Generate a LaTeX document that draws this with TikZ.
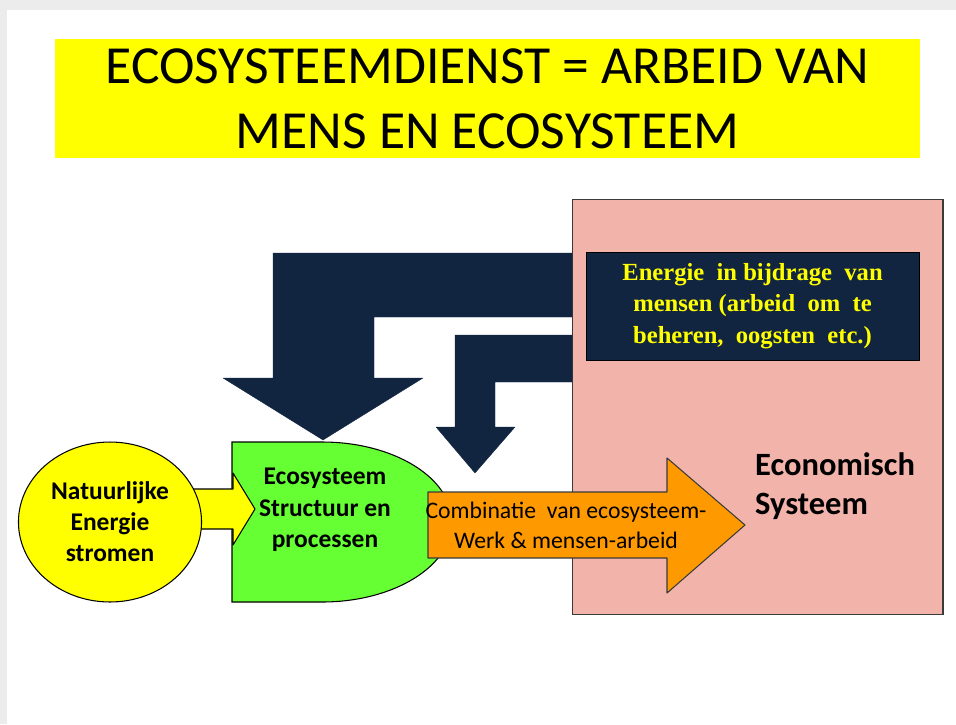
\documentclass[tikz,border=0pt]{standalone}
\usepackage{fontspec}
\setmainfont{Carlito}
\newfontfamily\serifletter{Liberation Serif}
\usepackage{tkz-euclide}
\usetikzlibrary{shapes.geometric}

\definecolor{marine}{HTML}{122540}
\definecolor{roze}{HTML}{F2B3AA}
\definecolor{geel}{HTML}{FFFF00}
\definecolor{groen}{HTML}{66FF33}
\definecolor{oranje}{HTML}{FF9900}
\definecolor{randgrijs}{HTML}{ECECEC}
\definecolor{rand}{HTML}{3A3A3A}

\begin{document}
\begin{tikzpicture}[x=0.02cm,y=-0.02cm]
        % Vaste grootte van het plaatje
        \useasboundingbox (0,0) rectangle (956,724);
        \fill[randgrijs] (0,0) rectangle (956,724);
        \fill[white] (7,10) rectangle (956,724);

        % Titel in de gele balk
        \node[fill=geel, minimum width=17.3cm, minimum height=2.38cm, align=center,
              font=\fontsize{30.5}{37}\selectfont] (titel) at (487.5,98.5)
              {ECOSYSTEEMDIENST = ARBEID VAN\\MENS EN ECOSYSTEEM};

        % Roze vak van het economisch systeem
        \node[draw=rand, line width=0.6pt, fill=roze, minimum width=7.42cm,
              minimum height=8.32cm] (economie) at (757.5,407) {};

        % Definieer de punten van de grote donkere pijl
        \tkzDefPoints{
            572/253/G1, 273/253/G2, 273/378/G3, 223/378/G4, 323/440/G5,
            423/378/G6, 374/378/G7, 374/317/G8, 572/317/G9%
        }
        % Definieer de punten van de kleine donkere pijl
        \tkzDefPoints{
            572/335/K1, 455/335/K2, 455/427/K3, 436/427/K4, 475/473/K5,
            515/427/K6, 495/427/K7, 495/382/K8, 572/382/K9%
        }
        % Teken beide donkere pijlen
        \tkzDrawPolygon[draw=marine, fill=marine](G1,G2,G3,G4,G5,G6,G7,G8,G9)
        \tkzDrawPolygon[draw=marine, fill=marine](K1,K2,K3,K4,K5,K6,K7,K8,K9)

        % Groene vorm van het ecosysteem
        \draw[fill=groen, line width=0.6pt] (232,442) -- (322,442)
              .. controls (394,442) and (452,478) .. (452,522)
              .. controls (452,566) and (394,602) .. (322,602) -- (232,602) -- cycle;
        \node[align=center, font=\bfseries\fontsize{14.5}{18}\selectfont] (eco) at (325,510)
              {Ecosysteem\\Structuur en\\processen};

        % Gele pijl van de natuurlijke stromen
        \tkzDefPoints{
            190/489/Y1, 233/489/Y2, 233/473/Y3, 255/509/Y4,
            233/545/Y5, 233/529/Y6, 190/529/Y7%
        }
        \tkzDrawPolygon[draw=black, line width=0.6pt, fill=geel](Y1,Y2,Y3,Y4,Y5,Y6,Y7)

        % Gele cirkel
        \node[ellipse, draw, line width=0.6pt, fill=geel, minimum width=3.36cm,
              minimum height=3.2cm, align=center,
              font=\bfseries\fontsize{14.5}{17.6}\selectfont] (natuur) at (110,522)
              {Natuurlijke\\Energie\\stromen};

        % Oranje pijl naar het economisch systeem
        \tkzDefPoints{
            428/492/O1, 667/492/O2, 667/458/O3, 745/525/O4,
            667/593/O5, 667/558/O6, 428/558/O7%
        }
        \tkzDrawPolygon[draw=rand, line width=0.6pt, fill=oranje](O1,O2,O3,O4,O5,O6,O7)
        \node[align=center, font=\fontsize{13.5}{17}\selectfont] (combi) at (566,525)
              {Combinatie\ \ van ecosysteem-\\Werk \& mensen-arbeid};

        % Donker vak met de bijdrage van mensen
        \node[draw=black, fill=marine, minimum width=6.66cm, minimum height=2.16cm,
              text=geel, align=center,
              font=\serifletter\bfseries\fontsize{14}{18}\selectfont] (mensen) at (752.5,306)
              {Energie\ \ in bijdrage\ \ van\\mensen (arbeid\ \ om\ \ te\\beheren,\ \ oogsten\ \ etc.)};

        % Label van het economisch systeem
        \node[anchor=west, align=left, font=\bfseries\fontsize{18.5}{22}\selectfont] (econ)
              at (749,486) {Economisch\\Systeem};
    \end{tikzpicture}
\end{document}
